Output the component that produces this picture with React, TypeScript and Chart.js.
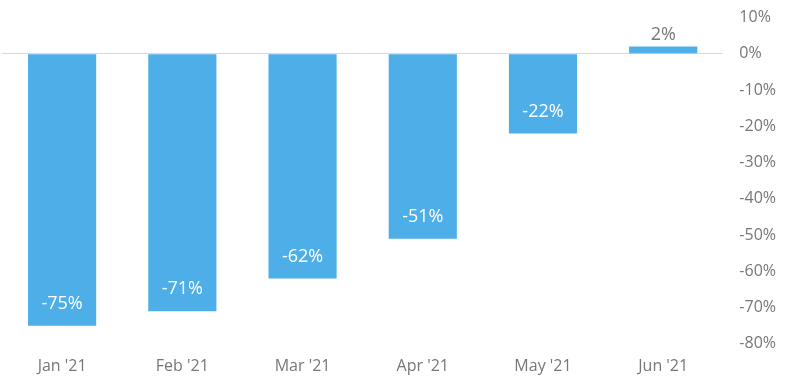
import React, { useEffect, useRef } from "react";
import { Chart, registerables } from "chart.js";

Chart.register(...registerables);

const categories = ["Jan '21", "Feb '21", "Mar '21", "Apr '21", "May '21", "Jun '21"];
const values = [-75, -71, -62, -51, -22, 2];
const yMin = -80;
const yMax = 10;
const yStep = 10;

const FONT = "'Open Sans', 'DejaVu Sans', sans-serif";

const labelPlugin = {
  id: "valueLabels",
  afterDatasetsDraw(chart: any) {
    const ctx = chart.ctx;
    const meta = chart.getDatasetMeta(0);
    ctx.save();
    ctx.font = `18px ${FONT}`;
    ctx.textAlign = "center";
    ctx.textBaseline = "middle";
    meta.data.forEach((el: any, i: number) => {
      const v = values[i];
      const text = `${v}%`;
      if (v < 0) {
        ctx.fillStyle = "#ffffff";
        ctx.fillText(text, el.x, el.y - 22);
      } else {
        ctx.fillStyle = "#777777";
        ctx.fillText(text, el.x, el.y - 12);
      }
    });
    ctx.restore();
  },
};

export default function App() {
  const ref = useRef<HTMLCanvasElement>(null);
  useEffect(() => {
    if (!ref.current) return;
    const chart = new Chart(ref.current, {
      type: "bar",
      data: {
        labels: categories,
        datasets: [
          {
            data: values,
            backgroundColor: "#4DAEE8",
            categoryPercentage: 0.567,
            barPercentage: 1,
          },
        ],
      },
      options: {
        animation: false,
        responsive: false,
        maintainAspectRatio: false,
        layout: { padding: { top: 0, left: 2, right: 8, bottom: -3 } },
        plugins: { legend: { display: false }, tooltip: { enabled: false } },
        scales: {
          x: {
            grid: { display: false },
            border: { display: false },
            ticks: { color: "#777777", font: { family: FONT, size: 16 }, padding: 5 },
          },
          y: {
            position: "right",
            min: yMin,
            max: yMax,
            border: { display: false },
            grid: {
              drawTicks: false,
              color: (c: any) => (c.tick && c.tick.value === 0 ? "#d9d9d9" : "rgba(0,0,0,0)"),
            },
            ticks: {
              stepSize: yStep,
              color: "#777777",
              font: { family: FONT, size: 16 },
              padding: 16,
              callback: (v: any) => `${v}%`,
            },
          },
        },
      },
      plugins: [labelPlugin],
    });
    return () => chart.destroy();
  }, []);
  return (
    <div style={{ position: "fixed", left: 0, top: 0, width: 800, height: 386, background: "#fff", overflow: "hidden" }}>
      <canvas ref={ref} width={800} height={386} style={{ position: "absolute", left: 0, top: -8 }} />
    </div>
  );
}
